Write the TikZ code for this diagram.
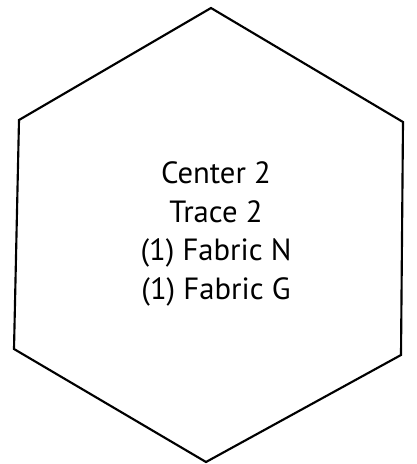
\documentclass[tikz,border=0pt]{standalone}
\usepackage{fontspec}
\setmainfont{PT Sans}
\usetikzlibrary{positioning}

\begin{document}
\begin{tikzpicture}[x=0.75pt,y=-0.75pt]
    % Canvas
    \useasboundingbox (0,0) rectangle (417,464);

    % Hexagon corners
    \coordinate (top) at (211,8);
    \coordinate (upright) at (403,122);
    \coordinate (lowright) at (401,355);
    \coordinate (bottom) at (206,462);
    \coordinate (lowleft) at (14,349);
    \coordinate (upleft) at (19,120);

    % Outline
    \draw[line width=1.6pt, line join=miter] (top) -- (upright) -- (lowright) -- (bottom) -- (lowleft) -- (upleft) -- cycle;

    % Label
    \node[align=center, font=\fontsize{23}{29}\selectfont] (label) at (216,234) {Center 2\\Trace 2\\(1) Fabric N\\(1) Fabric G};
\end{tikzpicture}
\end{document}
